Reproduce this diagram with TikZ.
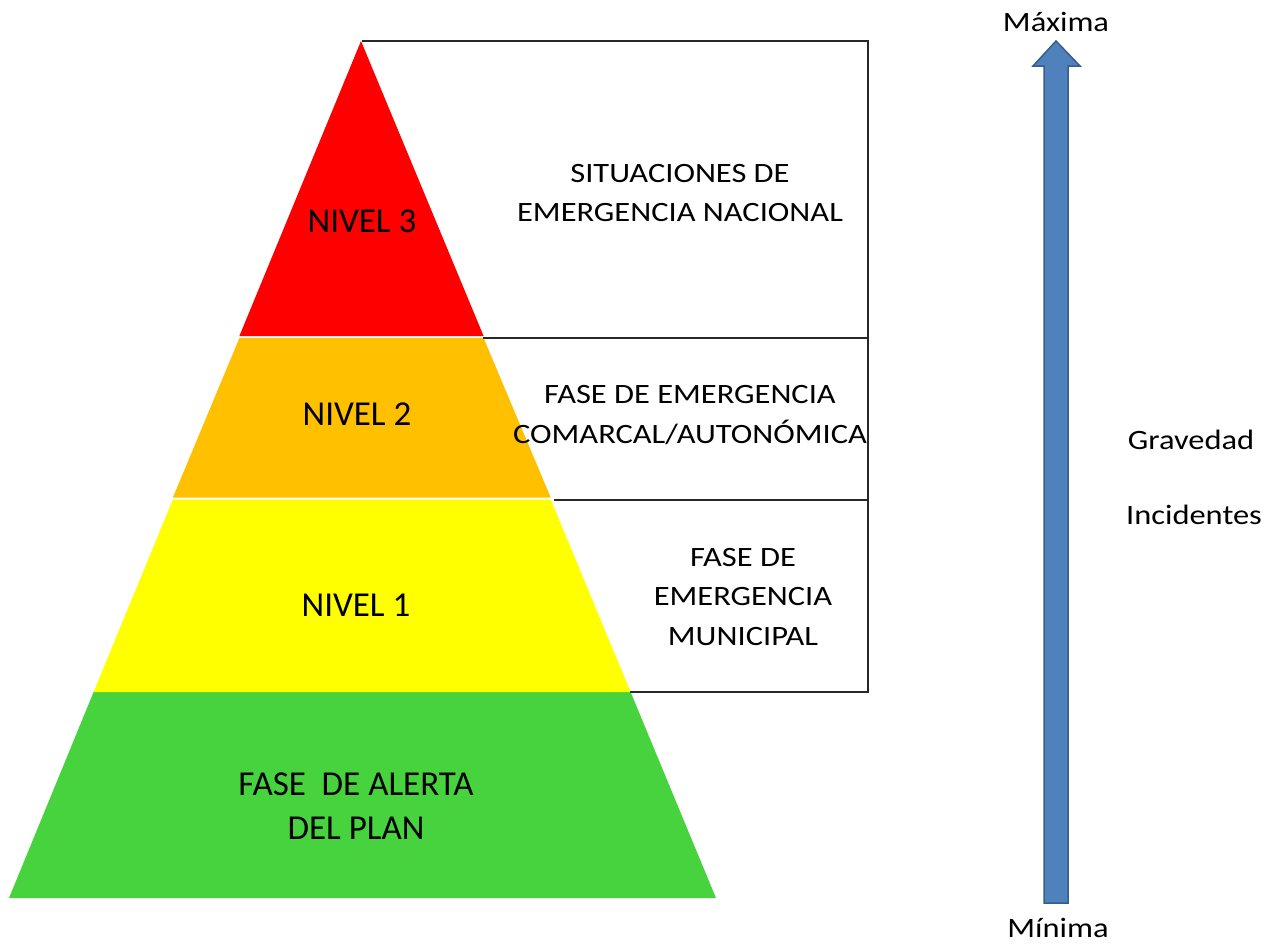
\documentclass[tikz,border=0pt]{standalone}
\usepackage{fontspec}
\setmainfont{Carlito}
\newfontfamily\widefont[FakeStretch=1.16]{Carlito}
\definecolor{lvred}{RGB}{255,0,0}
\definecolor{lvorange}{RGB}{255,192,0}
\definecolor{lvyellow}{RGB}{255,255,0}
\definecolor{lvgreen}{RGB}{70,211,61}
\definecolor{arrfill}{RGB}{79,129,189}
\definecolor{arrdraw}{RGB}{56,93,138}
\definecolor{boxline}{RGB}{40,40,40}
\begin{document}
\begin{tikzpicture}[x=1pt,y=-1pt,
  boxl/.style={draw=boxline,line width=2pt,line cap=rect},
  pyl/.style={font=\fontsize{35}{44}\selectfont,align=center,inner sep=0pt},
  lbl/.style={font=\widefont\fontsize{28}{39.5}\selectfont,align=center,inner sep=0pt}]
\useasboundingbox (0,0) rectangle (1284,945);
% pyramid bands
\fill[lvgreen] (93.6,692) -- (630.6,692) -- (716,898) -- (9,898) -- cycle;
\fill[lvyellow] (172.9,499.5) -- (550.7,499.5) -- (630.6,692) -- (93.6,692) -- cycle;
\fill[lvorange] (239.4,338) -- (483.6,338) -- (550.7,497.5) -- (172.9,497.5) -- cycle;
\fill[lvred] (361,41) -- (483.6,336) -- (239.4,336) -- cycle;
% box
\coordinate (bt) at (363,41);
\coordinate (btr) at (868,41);
\coordinate (bbr) at (868,692);
\coordinate (bbl) at (631,692);
\draw[boxl] (bt) -- (btr) -- (bbr) -- (bbl);
\coordinate (l2a) at (484,338);
\coordinate (l2b) at (868,338);
\coordinate (l1a) at (555,500);
\coordinate (l1b) at (868,500);
\draw[boxl] (l2a) -- (l2b);
\draw[boxl] (l1a) -- (l1b);
% labels in pyramid
\node[pyl] (n3) at (362,221) {NIVEL 3};
\node[pyl] (n2) at (357,414) {NIVEL 2};
\node[pyl] (n1) at (356,605) {NIVEL 1};
\node[pyl] (n0) at (356,806) {FASE\ \ DE ALERTA\\DEL PLAN};
% labels in box
\node[lbl] (s3) at (680,193) {SITUACIONES DE\\EMERGENCIA NACIONAL};
\node[lbl] (s2) at (690,415) {FASE DE EMERGENCIA\\COMARCAL/AUTONÓMICA};
\node[lbl] (s1) at (743,597) {FASE DE\\EMERGENCIA\\MUNICIPAL};
% arrow
\filldraw[fill=arrfill,draw=arrdraw,line width=1.5pt,line join=miter]
  (1044,903) -- (1044,66) -- (1033,66) -- (1056,41) -- (1080,66) -- (1068,66) -- (1068,903) -- cycle;
\node[lbl] (mx) at (1056,22) {Máxima};
\node[lbl] (mn) at (1058,928) {Mínima};
\node[lbl] (gr) at (1191,440) {Gravedad};
\node[lbl] (inc) at (1194,515) {Incidentes};
\end{tikzpicture}
\end{document}
